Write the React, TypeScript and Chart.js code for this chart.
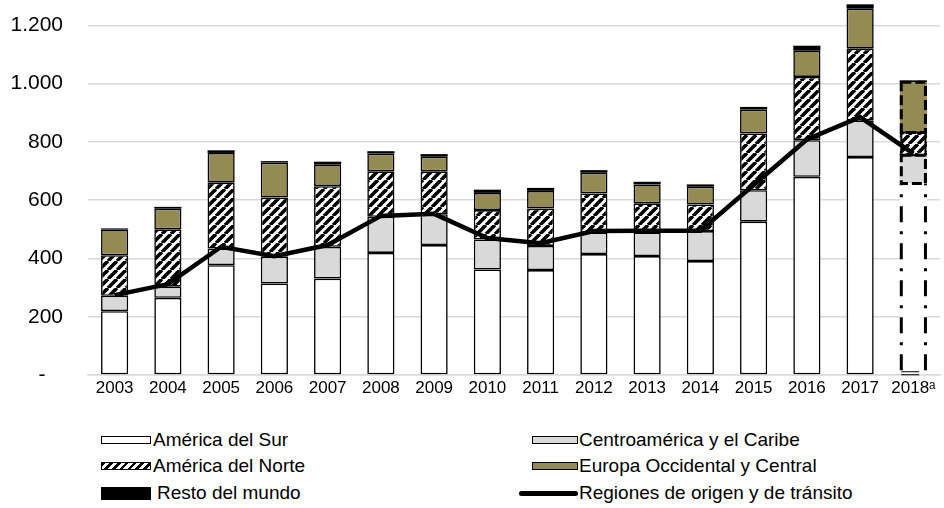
import { useEffect, useRef } from 'react';
import { Chart, registerables } from 'chart.js';

Chart.register(...registerables);

const years = ['2003', '2004', '2005', '2006', '2007', '2008', '2009', '2010', '2011', '2012', '2013', '2014', '2015', '2016', '2017', '2018ᵃ'];
const southAmerica = [219, 265, 377, 314, 331, 419, 446, 362, 360, 415, 408, 391, 526, 680, 748, 657];
const centralAmerica = [53, 38, 57, 92, 109, 124, 106, 103, 83, 74, 81, 103, 108, 126, 126, 97];
const northAmerica = [139, 197, 226, 203, 208, 156, 147, 101, 128, 134, 100, 91, 195, 217, 246, 78];
const westernEurope = [89, 71, 102, 120, 75, 61, 50, 59, 61, 71, 65, 61, 82, 91, 137, 173];
const restOfWorld = [3, 6, 9, 5, 9, 8, 9, 11, 10, 9, 9, 8, 9, 16, 15, 6];
const originTransit = [274, 312, 440, 408, 446, 546, 553, 470, 452, 494, 495, 495, 652, 808, 885, 760];
const yTicks = [0, 200, 400, 600, 800, 1000, 1200];
const yMax = 1280;

const FONT = '"Liberation Sans", Arial, sans-serif';
const OLIVE = '#948A54';
const GRAY = '#D9D9D9';

function fmt(v: number): string {
  if (v === 0) return '-   ';
  const s = String(v);
  return s.length > 3 ? s.slice(0, s.length - 3) + '.' + s.slice(s.length - 3) : s;
}

function makeHatch(): CanvasPattern | string {
  const c = document.createElement('canvas');
  const s = 9;
  c.width = s;
  c.height = s;
  const g = c.getContext('2d');
  if (!g) return '#fff';
  g.fillStyle = '#fff';
  g.fillRect(0, 0, s, s);
  g.strokeStyle = '#000';
  g.lineWidth = 3.6;
  for (const k of [-s, 0, s]) {
    g.beginPath();
    g.moveTo(k, s);
    g.lineTo(k + s, 0);
    g.stroke();
  }
  const p = g.createPattern(c, 'repeat');
  return p || '#000';
}

const lastIdx = years.length - 1;

const dashedLastBar = {
  id: 'dashedLastBar',
  beforeDatasetDraw(chart: any, args: any) {
    if (args.meta.type !== 'line') return;
    const ctx = chart.ctx;
    ctx.save();
    chart.data.datasets.forEach((ds: any, i: number) => {
      const meta = chart.getDatasetMeta(i);
      if (meta.type !== 'bar') return;
      const el: any = meta.data[lastIdx];
      if (!el) return;
      const p = el.getProps(['x', 'y', 'base', 'width'], true);
      const left = p.x - p.width / 2 + 1.5;
      const right = p.x + p.width / 2 - 1.5;
      const top = Math.min(p.y, p.base);
      const bottom = Math.max(p.y, p.base);
      ctx.strokeStyle = '#000';
      if (i === 0) {
        ctx.lineWidth = 3;
        ctx.setLineDash([16, 9, 3, 9]);
        ctx.beginPath();
        ctx.moveTo(left, bottom - 4);
        ctx.lineTo(left, top);
        ctx.moveTo(right, bottom - 4);
        ctx.lineTo(right, top);
        ctx.stroke();
        ctx.setLineDash([]);
        ctx.lineWidth = 1;
        ctx.beginPath();
        ctx.moveTo(left, bottom - 2.5);
        ctx.lineTo(left + 18, bottom - 2.5);
        ctx.moveTo(left, bottom + 0.5);
        ctx.lineTo(left + 18, bottom + 0.5);
        ctx.stroke();
      } else if (i === 2) {
        ctx.lineWidth = 2;
        ctx.setLineDash([]);
        ctx.strokeRect(left, top, right - left, bottom - top);
      } else if (i === 4) {
        ctx.setLineDash([]);
      } else {
        ctx.lineWidth = 3;
        ctx.setLineDash([10, 4]);
        ctx.strokeRect(left, top, right - left, bottom - top);
      }
    });
    ctx.restore();
  },
};

function App() {
  const ref = useRef<HTMLCanvasElement | null>(null);

  useEffect(() => {
    if (!ref.current) return;
    const hatch = makeHatch();
    const borderW = (c: any) => (c.dataIndex === lastIdx ? 0 : 1.6);
    const barCommon = {
      type: 'bar' as const,
      stack: 'bars',
      order: 1,
      borderColor: '#000',
      borderWidth: borderW,
      borderSkipped: false,
      categoryPercentage: 1,
      barPercentage: 0.51,
    };
    const chart = new Chart(ref.current, {
      type: 'bar',
      data: {
        labels: years,
        datasets: [
          { ...barCommon, label: 'América del Sur', data: southAmerica, backgroundColor: '#ffffff' },
          { ...barCommon, label: 'Centroamérica y el Caribe', data: centralAmerica, backgroundColor: GRAY },
          { ...barCommon, label: 'América del Norte', data: northAmerica, backgroundColor: hatch as any },
          { ...barCommon, label: 'Europa Occidental y Central', data: westernEurope, backgroundColor: OLIVE },
          { ...barCommon, label: 'Resto del mundo', data: restOfWorld, backgroundColor: '#000000', borderWidth: 0 },
          {
            type: 'line' as const,
            label: 'Regiones de origen y de tránsito',
            data: originTransit,
            stack: 'line',
            order: 0,
            borderColor: '#000',
            borderWidth: 4.5,
            pointRadius: 0,
            tension: 0,
            fill: false,
          },
        ] as any,
      },
      options: {
        animation: false,
        responsive: true,
        maintainAspectRatio: false,
        layout: { padding: { top: 2, right: 4, left: 0, bottom: 0 } },
        plugins: { legend: { display: false }, tooltip: { enabled: false } },
        scales: {
          x: {
            stacked: true,
            grid: { display: false, drawTicks: false },
            border: { display: true, color: GRAY, width: 1.5 },
            ticks: { font: { family: FONT, size: 17 }, color: '#000', padding: 3, maxRotation: 0, autoSkip: false },
            afterFit: (s: any) => {
              s.height = 45;
              s.paddingLeft = 0;
              s.paddingRight = 0;
            },
          },
          y: {
            stacked: true,
            min: 0,
            max: yMax,
            afterBuildTicks: (s: any) => {
              s.ticks = yTicks.map((v) => ({ value: v }));
            },
            afterFit: (s: any) => {
              s.width = 88;
              s.paddingTop = 0;
              s.paddingBottom = 0;
            },
            border: { display: false },
            grid: { color: GRAY, lineWidth: 1.5, drawTicks: false },
            ticks: {
              padding: 25,
              font: { family: FONT, size: 21 },
              color: '#000',
              callback: (v: any) => fmt(Number(v)),
            },
          },
        },
      } as any,
      plugins: [dashedLastBar],
    });
    return () => chart.destroy();
  }, []);

  const textStyle = (left: number, cy: number): any => ({
    position: 'absolute',
    left,
    top: cy - 12,
    height: 24,
    lineHeight: '24px',
    fontFamily: FONT,
    fontSize: 19,
    color: '#000',
    whiteSpace: 'nowrap',
  });
  const box = (left: number, top: number, w: number, h: number, bg: string, extra: any = {}): any => ({
    position: 'absolute',
    left,
    top,
    width: w,
    height: h,
    boxSizing: 'border-box',
    border: '1.5px solid #000',
    background: bg,
    ...extra,
  });

  const r1 = 440;
  const r2 = 466;
  const r3 = 493;

  return (
    <div style={{ position: 'fixed', left: 0, top: 0, width: 944, height: 508, background: '#fff', overflow: 'hidden' }}>
      <div style={{ position: 'absolute', left: 0, top: 0, width: 944, height: 420 }}>
        <canvas ref={ref} />
      </div>
      <div style={box(101, r1 - 4, 50, 8, '#fff')} />
      <div style={textStyle(153, r1)}>América del Sur</div>
      <div style={box(101, r2 - 4, 50, 8, 'repeating-linear-gradient(135deg, #000 0 2.5px, #fff 2.5px 5.5px)')} />
      <div style={textStyle(153, r2)}>América del Norte</div>
      <div style={box(101, r3 - 6, 50, 13, '#000')} />
      <div style={textStyle(157, r3)}>Resto del mundo</div>
      <div style={box(532, r1 - 4, 46, 8, GRAY)} />
      <div style={textStyle(579, r1)}>Centroamérica y el Caribe</div>
      <div style={box(532, r2 - 4, 46, 8, OLIVE)} />
      <div style={textStyle(579, r2)}>Europa Occidental y Central</div>
      <div style={{ position: 'absolute', left: 519, top: r3 - 2.5, width: 59, height: 5, background: '#000', borderRadius: 3 }} />
      <div style={textStyle(579, r3)}>Regiones de origen y de tránsito</div>
    </div>
  );
}

export default App;
